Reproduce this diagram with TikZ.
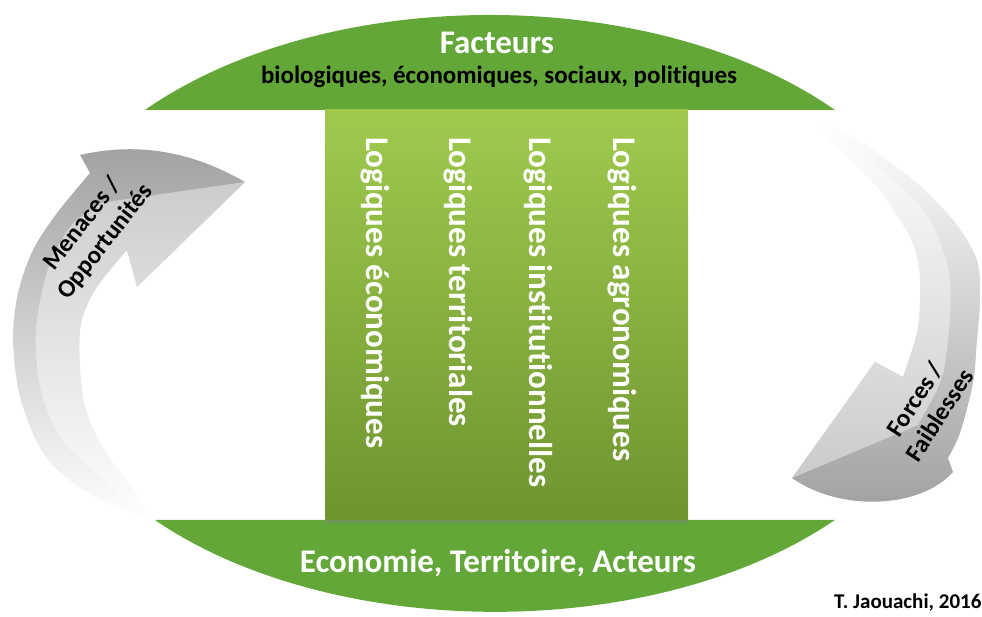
\documentclass[tikz,border=0pt]{standalone}
\usepackage{fontspec}
\setmainfont{Carlito}[Ligatures=NoCommon]
\usepackage{tikz}
\usetikzlibrary{shadows}
\definecolor{domegreen}{RGB}{99,167,56}
\definecolor{boxtop}{RGB}{160,202,78}
\definecolor{boxbottom}{RGB}{110,148,48}
\definecolor{arrowgray}{RGB}{160,160,160}
\newcommand{\bigsize}{\fontsize{33}{36}\selectfont}
\newcommand{\subsize}{\fontsize{25}{28}\selectfont}
\newcommand{\arrowsize}{\fontsize{25}{29}\selectfont}
\newcommand{\creditsize}{\fontsize{21}{22}\selectfont}

\begin{document}
\begin{tikzpicture}[x=1pt, y=1pt]
                        %\draw[help lines, step=50] (0,0) grid (982,617);
                        \tikzset{logique/.style = {rotate=-90, anchor=west, inner sep=0pt, text=white, font=\bigsize\bfseries}}
                        \tikzset{titre/.style = {inner sep=0pt, text=white, font=\bigsize\bfseries}}
                        \tikzset{fleche/.style = {align=center, inner sep=0pt, font=\arrowsize\bfseries}}
                        \useasboundingbox (0,0) rectangle (982,617);
                        % domes
                        \fill[domegreen] (145,507) arc[start angle=139.6, end angle=40.4, x radius=453, y radius=270] -- cycle;
                        \fill[domegreen] (155,97) arc[start angle=220.5, end angle=319.5, x radius=447, y radius=262] -- cycle;
                        % central box
                        \shade[top color=boxtop, bottom color=boxbottom, drop shadow={shadow xshift=0pt, shadow yshift=-3pt, opacity=0.45}] (325,97) rectangle (688,507);
                        \node[logique] (eco) at (375,480) {Logiques économiques};
                        \node[logique] (ter) at (458,480) {Logiques territoriales};
                        \node[logique] (ins) at (538,480) {Logiques institutionnelles};
                        \node[logique] (agr) at (622,480) {Logiques agronomiques};
                        \node[titre] (facteurs) at (497,574) {Facteurs};
                        \node[inner sep=0pt, font=\subsize\bfseries] (types) at (499,540) {biologiques, économiques, sociaux, politiques};
                        \node[titre] (eta) at (498,54) {Economie, Territoire, Acteurs};
                        % left arrow
                        \shade[top color=arrowgray, bottom color=white]
                            plot[smooth] coordinates {(153,94) (83,127) (43,164) (20,220) (13,277) (18,324) (33,367) (57,404) (90,444)}
                            -- (80,462) .. controls (150,478) and (205,458) .. (245,435) -- (137,330) -- (127,367)
                            -- plot[smooth] coordinates {(127,367) (95,327) (80,287) (83,220) (100,174) (133,127) (153,94)} -- cycle;
                        \fill[white, opacity=0.4] (245,435) -- (137,330) -- (127,367)
                            -- plot[smooth] coordinates {(127,367) (95,327) (80,287) (83,220) (100,174) (133,127) (153,94)}
                            -- plot[smooth] coordinates {(153,94) (100,140) (60,180) (40,230) (36,287) (47,345) (70,390) (100,414)} -- cycle;
                        \node[fleche, rotate=52] (menaces) at (94,384) {Menaces /\\Opportunités};
                        % right arrow
                        \shade[top color=white, bottom color=arrowgray]
                            plot[smooth] coordinates {(817,494) (843,487) (910,440) (953,397) (977,357) (980,317) (977,277) (973,234) (960,184) (948,159)}
                            -- (953,145) .. controls (920,108) and (840,105) .. (792,139) -- (875,255) -- (903,240)
                            -- plot[smooth] coordinates {(903,240) (917,284) (920,317) (919,350) (910,380) (877,430) (827,480) (817,494)} -- cycle;
                        \fill[white, opacity=0.4] (792,139) -- (875,255) -- (903,240)
                            -- plot[smooth] coordinates {(903,240) (917,284) (920,317) (919,350) (910,380) (877,430) (827,480) (817,494)}
                            -- plot[smooth] coordinates {(817,494) (875,452) (925,405) (948,350) (950,300) (942,240) (918,192)} -- cycle;
                        \node[fleche, rotate=57] (forces) at (927,210) {Forces /\\Faiblesses};
                        % credit
                        \node[anchor=west, inner sep=0pt, font=\creditsize\bfseries] (credit) at (834,14) {T. Jaouachi, 2016};
\end{tikzpicture}
\end{document}
